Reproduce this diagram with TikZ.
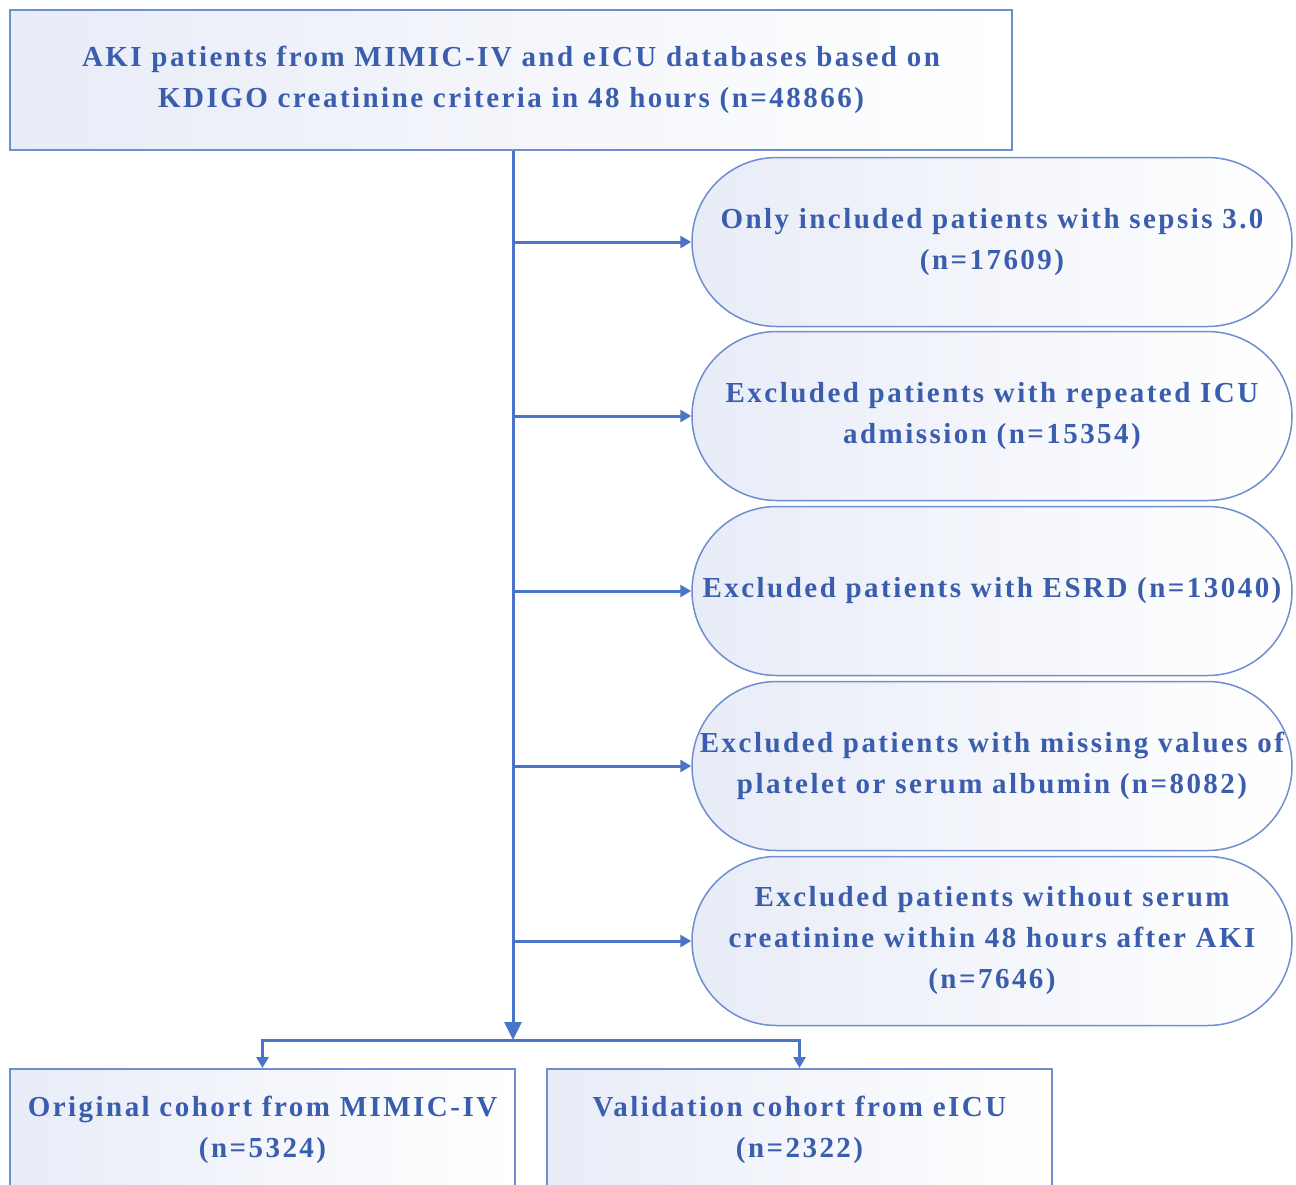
\documentclass[tikz,border=0pt]{standalone}
\usepackage{fontspec}
\setmainfont{Liberation Serif}
\usetikzlibrary{arrows.meta,shapes.misc}
\definecolor{txtblue}{HTML}{3A5DAE}
\definecolor{lineblue}{HTML}{4A74C8}
\definecolor{bordblue}{HTML}{6E8ED0}
\definecolor{fillblue}{HTML}{E8ECF7}
\begin{document}
\begin{tikzpicture}[x=1pt,y=-1pt,
  lbl/.style={font=\fontsize{29}{41}\selectfont\bfseries\addfontfeatures{LetterSpace=8.5}, text=txtblue, align=center},
  rectbox/.style={draw=bordblue, line width=1.5pt, left color=fillblue, right color=white, inner sep=0pt, lbl},
  pillbox/.style={draw=bordblue, line width=1.5pt, left color=fillblue, right color=white, rounded rectangle, inner sep=0pt, minimum width=600pt, minimum height=169pt, lbl},
  conn/.style={draw=lineblue, line width=3pt},
  tip/.style={-{Triangle[length=11pt,width=12pt]}}
]
\useasboundingbox (0,0) rectangle (1296,1184);
\node[rectbox, minimum width=1002pt, minimum height=140pt] (top) at (511,80) {AKI patients from MIMIC-IV and eICU databases based on\\KDIGO creatinine criteria in 48 hours (n=48866)};
\node[pillbox] (e1) at (992,242) {Only included patients with sepsis 3.0\\(n=17609)};
\node[pillbox] (e2) at (992,416) {Excluded patients with repeated ICU\\admission (n=15354)};
\node[pillbox] (e3) at (992,591) {Excluded patients with ESRD (n=13040)};
\node[pillbox] (e4) at (992,766) {Excluded patients with missing values of\\platelet or serum albumin (n=8082)};
\node[pillbox] (e5) at (992,941) {Excluded patients without serum\\creatinine within 48 hours after AKI\\(n=7646)};
\node[rectbox, minimum width=505pt, minimum height=160pt, anchor=north] (o1) at (262.5,1068) {};
\node[rectbox, minimum width=505pt, minimum height=160pt, anchor=north] (o2) at (799.5,1068) {};
\node[lbl] (t1) at (262.5,1130) {Original cohort from MIMIC-IV\\(n=5324)};
\node[lbl] (t2) at (799.5,1130) {Validation cohort from eICU\\(n=2322)};
\coordinate (split) at (513,1040);
\foreach \i/\yy in {1/242,2/416,3/591,4/766,5/941}{
  \coordinate (b\i) at (513,\yy);
  \draw[conn, tip] (b\i) -- (e\i.west);
}
\draw[conn, -{Triangle[length=18pt,width=17pt]}] (top.south -| split) -- (split);
\draw[conn, tip] (split) -| (o1.north);
\draw[conn, tip] (split) -| (o2.north);
\end{tikzpicture}
\end{document}
